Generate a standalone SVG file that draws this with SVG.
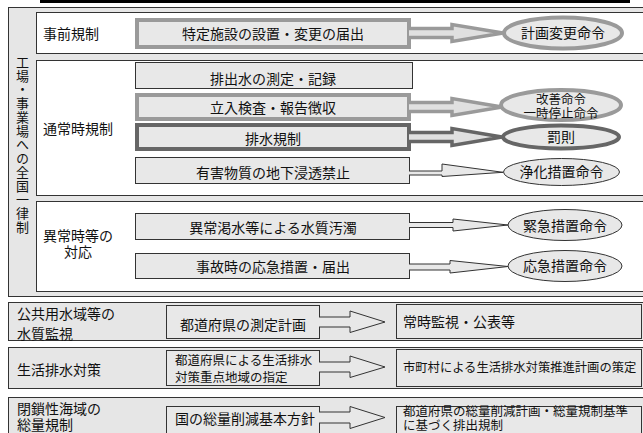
<svg xmlns="http://www.w3.org/2000/svg" width="643" height="433" viewBox="0 0 643 433">
<style>
text{font-family:"Noto Sans CJK JP","Noto Sans CJK SC",sans-serif;fill:#111;}
.f14{font-size:14px;}
.f13{font-size:12.5px;}
.c{text-anchor:middle;}
.vert{writing-mode:vertical-rl;font-size:13px;letter-spacing:0.75px;}
.panel{fill:#e6e6e6;stroke:#333;stroke-width:1;}
.white{fill:#fff;stroke:#333;stroke-width:1;}
.box{fill:#e8e8e8;stroke:#333;stroke-width:1;}
.thick{fill:#e8e8e8;stroke:#9a9a9a;stroke-width:4;}
.dark{fill:#e8e8e8;stroke:#666;stroke-width:4;}
.athick{fill:#e0e0e0;stroke:#9a9a9a;stroke-width:3.5;}
.adark{fill:#e0e0e0;stroke:#666;stroke-width:3.5;}
.athin{fill:#e8e8e8;stroke:#333;stroke-width:1;}
</style>
<rect x="0" y="0" width="643" height="433" fill="#fff"/>
<rect x="40" y="0" width="590" height="3" fill="#000"/>

<g id="panel-factory">
<rect class="panel" x="8.5" y="7.5" width="645" height="289"/>
<text class="vert" x="22.5" y="55.5">工場・事業場への全国一律制</text>
</g>

<g id="sec-pre">
<rect class="white" x="36.5" y="12.5" width="615" height="41"/>
<text class="f14" x="43" y="38.5">事前規制</text>
</g>
<g id="sec-normal">
<rect class="white" x="36.5" y="60.5" width="615" height="135"/>
<text class="f14" x="43" y="133.5">通常時規制</text>
</g>
<g id="sec-abnormal">
<rect class="white" x="36.5" y="201.5" width="615" height="90"/>
<text class="f14"><tspan x="43" y="241">異常時等の</tspan><tspan x="64" y="257">対応</tspan></text>
</g>

<g id="n-tokutei">
<rect class="thick" x="137" y="20" width="272" height="27"/>
<text class="f14 c" x="273" y="38.5">特定施設の設置・変更の届出</text>
</g>
<g id="n-keikaku">
<ellipse class="thick" cx="563" cy="33" rx="59" ry="15.5"/>
<text class="f14 c" x="563" y="38">計画変更命令</text>
</g>

<g id="n-sokutei">
<rect class="box" x="135.5" y="62.5" width="277" height="26"/>
<text class="f14 c" x="273" y="83.5">排出水の測定・記録</text>
</g>
<g id="n-tachiiri">
<rect class="thick" x="137" y="95" width="272" height="24"/>
<text class="f14 c" x="273" y="112.5">立入検査・報告徴収</text>
</g>
<g id="n-kaizen">
<ellipse class="thick" cx="561" cy="105" rx="60" ry="15"/>
<text class="f13 c"><tspan x="561" y="103.5">改善命令</tspan><tspan x="561" y="117.5">一時停止命令</tspan></text>
</g>
<g id="n-haisui">
<rect class="dark" x="137" y="125" width="272" height="24"/>
<text class="f14 c" x="273" y="143.5">排水規制</text>
</g>
<g id="n-bassoku">
<ellipse class="dark" cx="561" cy="137" rx="58" ry="11.5"/>
<text class="f14 c" x="561" y="141.5">罰則</text>
</g>
<g id="n-yugai">
<rect class="box" x="135.5" y="157.5" width="274" height="26"/>
<text class="f14 c" x="273" y="177.5">有害物質の地下浸透禁止</text>
</g>
<g id="n-joka">
<ellipse class="athin" cx="561.5" cy="172" rx="58" ry="13.5"/>
<text class="f14 c" x="561.5" y="177">浄化措置命令</text>
</g>

<g id="n-ijo">
<rect class="box" x="135.5" y="213.5" width="274" height="26"/>
<text class="f14 c" x="273" y="232.5">異常渇水等による水質汚濁</text>
</g>
<g id="n-kinkyu">
<ellipse class="athin" cx="565" cy="225" rx="57" ry="15.5"/>
<text class="f14 c" x="565" y="231">緊急措置命令</text>
</g>
<g id="n-jiko">
<rect class="box" x="135.5" y="253.5" width="274" height="25"/>
<text class="f14 c" x="273" y="272">事故時の応急措置・届出</text>
</g>
<g id="n-okyu">
<ellipse class="athin" cx="565" cy="266" rx="57" ry="15.5"/>
<text class="f14 c" x="565" y="271">応急措置命令</text>
</g>

<g id="panel-kokyo">
<rect class="panel" x="8.5" y="302.5" width="645" height="38"/>
<text class="f14"><tspan x="17" y="318.5">公共用水域等の</tspan><tspan x="17" y="338.5">水質監視</tspan></text>
</g>
<g id="n-todofuken-sokutei">
<rect class="box" x="166.5" y="305.5" width="153" height="33"/>
<text class="f14 c" x="243" y="330">都道府県の測定計画</text>
</g>
<g id="n-joji">
<rect class="box" x="396.5" y="304.5" width="245" height="34"/>
<text class="f14" x="403" y="327">常時監視・公表等</text>
</g>

<g id="panel-seikatsu">
<rect class="panel" x="8.5" y="347.5" width="645" height="41"/>
<text class="f14" x="17" y="375">生活排水対策</text>
</g>
<g id="n-juten">
<rect class="box" x="166.5" y="350.5" width="153" height="35"/>
<text class="f13"><tspan x="175" y="365">都道府県による生活排水</tspan><tspan x="175" y="382">対策重点地域の指定</tspan></text>
</g>
<g id="n-shichoson">
<rect class="box" x="396.5" y="349.5" width="245" height="37"/>
<text class="f13" x="403" y="372" style="font-size:12.3px">市町村による生活排水対策推進計画の策定</text>
</g>

<g id="panel-heisa">
<rect class="panel" x="8.5" y="397.5" width="645" height="50"/>
<text class="f14"><tspan x="17" y="414">閉鎖性海域の</tspan><tspan x="17" y="430">総量規制</tspan></text>
</g>
<g id="n-kihon">
<rect class="box" x="166.5" y="406.5" width="153" height="40"/>
<text class="f14" x="175" y="423.5">国の総量削減基本方針</text>
</g>
<g id="n-sakugen">
<rect class="box" x="396.5" y="406.5" width="245" height="40"/>
<text class="f13"><tspan x="403" y="415.5">都道府県の総量削減計画・総量規制基準</tspan><tspan x="403" y="430">に基づく排出規制</tspan></text>
</g>

<g id="connectors">
<path class="athick" d="M409,28.5 H452 V24.5 L503,33 L452,41.5 V37.5 H409"/>
<path class="athick" d="M409,102.5 H452 V98.5 L502,107 L452,115.5 V111.5 H409"/>
<path class="adark" d="M409,132.5 H452 V128.5 L502,137 L452,145.5 V141.5 H409"/>
<path class="athin" d="M409,171 H442 V164 L503,172.3 L442,176.5 V175 H409"/>
<path class="athin" d="M409,222.5 H453 V219 L508,225 L453,231 V227.5 H409"/>
<path class="athin" d="M409,264 H450 V260.5 L508,266.5 L450,273 V270 H409"/>
<path class="athin" d="M319,317 H350 V311 L385,322 L350,332.5 V327 H319"/>
<path class="athin" d="M319,362 H350 V356 L385,367 L350,377.5 V372 H319"/>
<path class="athin" d="M319,412 H350 V406.5 L385,417.5 L350,428.5 V423 H319"/>
</g>
</svg>
